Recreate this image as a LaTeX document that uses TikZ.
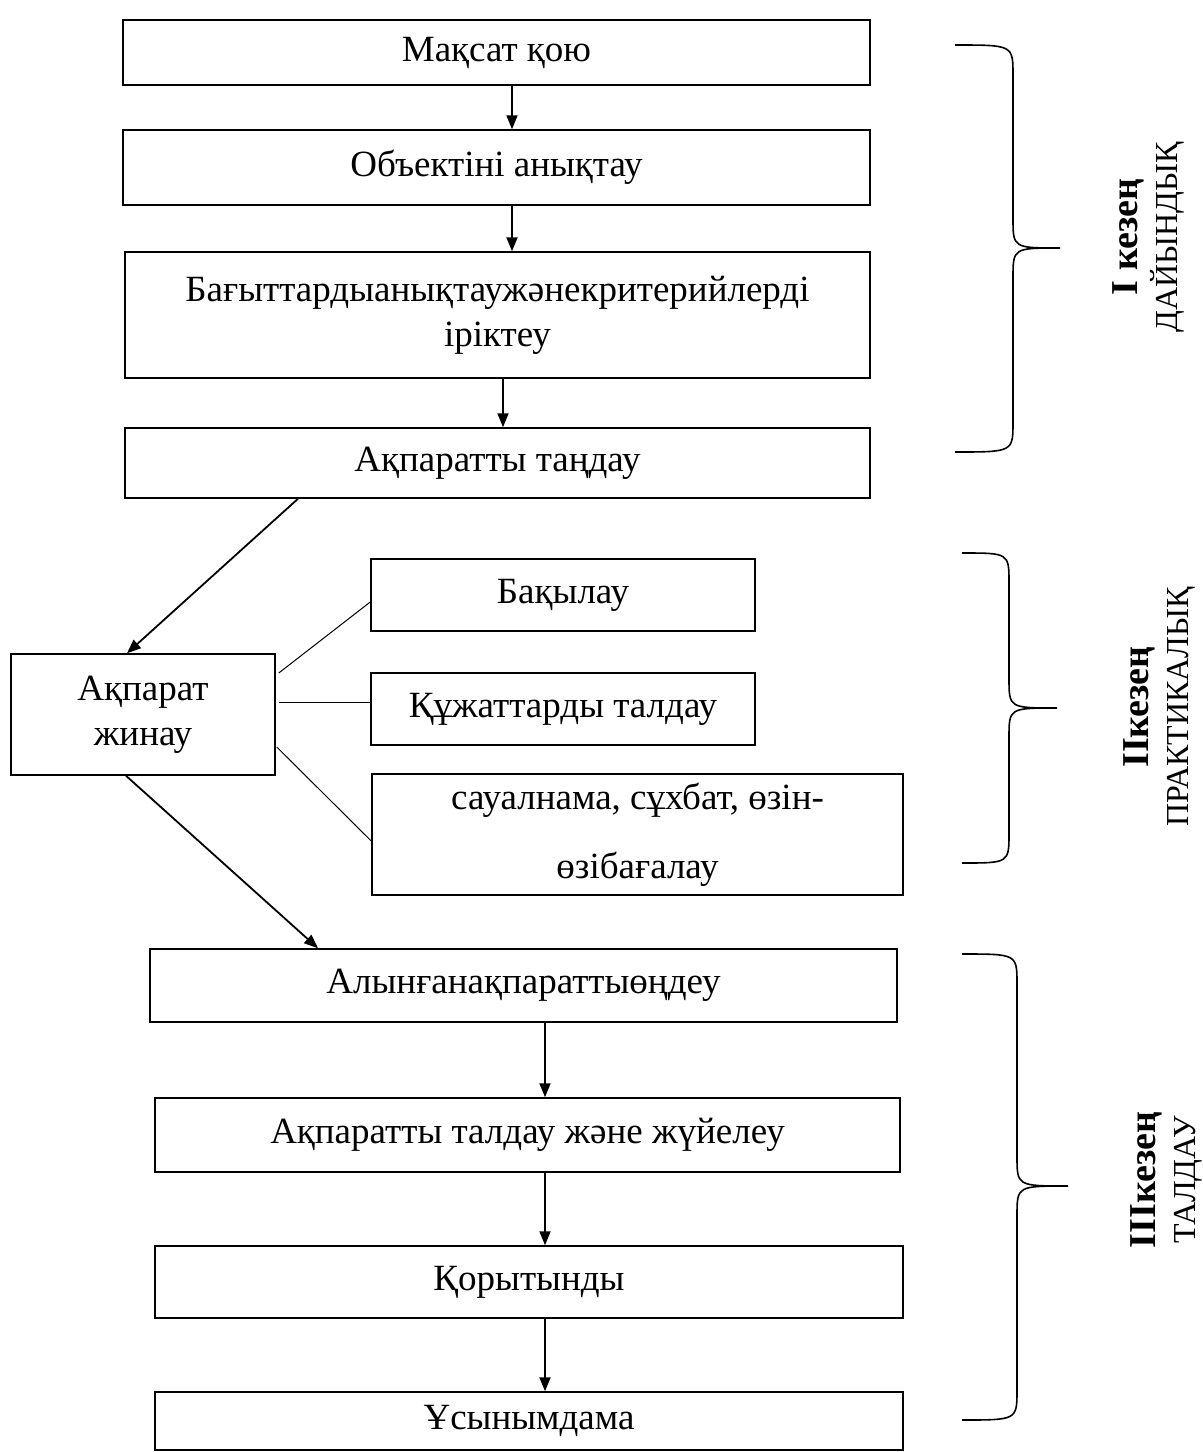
\documentclass[tikz,border=0pt]{standalone}
\usepackage{fontspec}
\setmainfont{Liberation Serif}
\usetikzlibrary{arrows.meta,calc}
\tikzset{
  flowbox/.style 2 args={draw,line width=0.75pt,minimum width=#1*0.5pt,minimum height=#2*0.5pt,
    inner sep=0pt,align=center,font=\fontsize{18.5}{22.5}\selectfont},
  flowarrow/.style={line width=0.9pt,-{Triangle[length=7pt,width=5.5pt]}},
  link/.style={line width=0.5pt},
  stagebrace/.style={line width=0.8pt},
  stagelabel/.style={rotate=90,align=center,font=\fontsize{16}{20}\selectfont},
}
\begin{document}
\begin{tikzpicture}[x=0.5pt,y=-0.5pt]
\useasboundingbox (0,0) rectangle (1203,1452);
% stage I boxes
\node[flowbox={747}{65}] (aim) at (496.5,52.5) {Мақсат қою};
\node[flowbox={747}{75}] (object) at (496.5,167.5) {Объектіні анықтау};
\node[flowbox={745}{126}] (direction) at (497.5,315) {Бағыттардыанықтаужәнекритерийлерді\\іріктеу};
\node[flowbox={745}{70}] (select) at (497.5,463) {Ақпаратты таңдау};
% stage II boxes
\node[flowbox={264}{121}] (collect) at (143,714.5) {Ақпарат\\жинау};
\node[flowbox={384}{72}] (observe) at (563,595) {Бақылау};
\node[flowbox={384}{72}] (documents) at (563,709) {Құжаттарды талдау};
\node[flowbox={531}{121},font=\fontsize{18.5}{34.5}\selectfont] (survey) at (637.5,834.5) {сауалнама, сұхбат, өзін-\\өзібағалау};
% stage III boxes
\node[flowbox={747}{73}] (process) at (523.5,985.5) {Алынғанақпараттыөңдеу};
\node[flowbox={745}{74}] (analyse) at (527.5,1135) {Ақпаратты талдау және жүйелеу};
\node[flowbox={748}{72}] (conclude) at (529,1282) {Қорытынды};
\node[flowbox={748}{58}] (recommend) at (529,1421) {Ұсынымдама};
% arrows
\draw[flowarrow] ($(aim.south)+(15.5,0)$) -- ($(object.north)+(15.5,0)$);
\draw[flowarrow] ($(object.south)+(15.5,0)$) -- ($(direction.north)+(14.5,0)$);
\draw[flowarrow] ($(direction.south)+(5.5,0)$) -- ($(select.north)+(5.5,0)$);
\draw[flowarrow] ($(select.south)+(-199.5,0)$) -- ($(collect.north)+(-16,0)$);
\draw[flowarrow] ($(collect.south)+(-17,0)$) -- ($(process.north)+(-205.5,0)$);
\draw[flowarrow] ($(process.south)+(21.5,0)$) -- ($(analyse.north)+(17.5,0)$);
\draw[flowarrow] ($(analyse.south)+(17.5,0)$) -- ($(conclude.north)+(16,0)$);
\draw[flowarrow] ($(conclude.south)+(16,0)$) -- ($(recommend.north)+(16,0)$);
% method links
\draw[link] ($(collect.east)+(3,-41.5)$) -- ($(observe.west)+(0,7)$);
\draw[link] ($(collect.east)+(3,-12.5)$) -- ($(documents.west)+(0,-7)$);
\draw[link] ($(collect.east)+(1,32.5)$) -- ($(survey.west)+(0,6.5)$);
% braces
\foreach \xl/\xm/\xt/\yt/\ym/\yb in {955/1013/1060/45/248/452, 962/1009/1057/553/708/863, 962/1017/1068/954/1186/1420} {
  \draw[stagebrace] (\xl,\yt) .. controls (\xm,\yt) .. (\xm,\yt+30) -- (\xm,\ym-30)
    .. controls (\xm,\ym) .. (\xt,\ym) .. controls (\xm,\ym) .. (\xm,\ym+30)
    -- (\xm,\yb-30) .. controls (\xm,\yb) .. (\xl,\yb);
}
% stage labels
\node[stagelabel] (stage1) at (1148.5,237) {{\fontsize{19}{20}\selectfont\bfseries I кезең}\\ДАЙЫНДЫҚ};
\node[stagelabel] (stage2) at (1159,707) {{\fontsize{19}{20}\selectfont\bfseries IIкезең}\\ПРАКТИКАЛЫҚ};
\node[stagelabel] (stage3) at (1166,1180) {{\fontsize{19}{20}\selectfont\bfseries IIIкезең}\\ТАЛДАУ};
\end{tikzpicture}
\end{document}
